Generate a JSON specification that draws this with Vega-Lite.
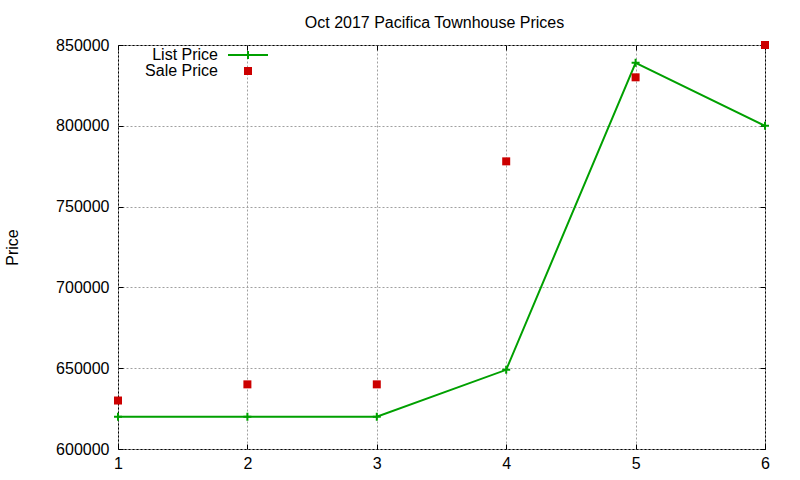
{
  "$schema": "https://vega.github.io/schema/vega-lite/v6.json",
  "autosize": "none",
  "width": 647,
  "height": 404,
  "padding": {"left": 118, "top": 45, "right": 35, "bottom": 31},
  "background": "white",
  "title": {
    "text": "Oct 2017 Pacifica Townhouse Prices",
    "font": "Liberation Sans",
    "fontSize": 16,
    "fontWeight": "normal",
    "color": "#000000",
    "anchor": "middle",
    "frame": "group",
    "baseline": "bottom",
    "offset": 14,
    "dx": -7,
    "dy": 24
  },
  "config": {
    "view": {"stroke": "#000000", "strokeWidth": 1},
    "font": "Liberation Sans",
    "axis": {
      "labelFont": "Liberation Sans",
      "labelFontSize": 16,
      "labelColor": "#000000",
      "labelFlush": false,
      "labelOverlap": false,
      "titleFont": "Liberation Sans",
      "titleFontSize": 16,
      "titleFontWeight": "normal",
      "titleColor": "#000000",
      "domain": false,
      "tickColor": "#000000",
      "tickSize": -5,
      "gridColor": "#a0a0a0",
      "gridDash": [2, 2],
      "gridOpacity": 1
    }
  },
  "data": {
    "values": [
      {"num": 1, "price": 620000, "series": "List Price"},
      {"num": 2, "price": 620000, "series": "List Price"},
      {"num": 3, "price": 620000, "series": "List Price"},
      {"num": 4, "price": 649000, "series": "List Price"},
      {"num": 5, "price": 839000, "series": "List Price"},
      {"num": 6, "price": 800000, "series": "List Price"},
      {"num": 1, "price": 630000, "series": "Sale Price"},
      {"num": 2, "price": 640000, "series": "Sale Price"},
      {"num": 3, "price": 640000, "series": "Sale Price"},
      {"num": 4, "price": 778000, "series": "Sale Price"},
      {"num": 5, "price": 830000, "series": "Sale Price"},
      {"num": 6, "price": 850000, "series": "Sale Price"}
    ]
  },
  "encoding": {
    "x": {"field": "num", "type": "quantitative", "scale": {"domain": [1, 6], "nice": false, "zero": false}},
    "y": {"field": "price", "type": "quantitative", "scale": {"domain": [600000, 850000], "nice": false, "zero": false}},
    "color": {
      "field": "series",
      "type": "nominal",
      "scale": {"domain": ["List Price", "Sale Price"], "range": ["#00a000", "#cc0000"]},
      "legend": {
        "title": null,
        "orient": "none",
        "legendX": 42,
        "legendY": 2,
        "padding": 0,
        "labelFont": "Liberation Sans",
        "labelFontSize": 16,
        "labelColor": "#000000",
        "labelAlign": "right",
        "symbolSize": 100,
        "symbolStrokeWidth": 2,
        "symbolOffset": 80,
        "labelOffset": -38,
        "rowPadding": -3,
        "encode": {
          "symbols": {
            "update": {
              "shape": {"signal": "datum.value == 'List Price' ? 'M-4,0L4,0M0,-0.8L0,0.8' : 'M-0.8,-0.8L0.8,-0.8L0.8,0.8L-0.8,0.8Z'"},
              "fill": {"signal": "datum.value == 'Sale Price' ? '#cc0000' : 'transparent'"},
              "stroke": {"signal": "datum.value == 'List Price' ? '#00a000' : 'transparent'"},
              "strokeWidth": {"signal": "datum.value == 'List Price' ? 2 : 0"},
              "opacity": {"value": 1}
            }
          }
        }
      }
    }
  },
  "layer": [
    {
      "transform": [{"filter": "datum.series == 'List Price'"}],
      "mark": {"type": "line", "strokeWidth": 2},
      "encoding": {
        "x": {"field": "num", "type": "quantitative", "axis": {"title": null, "values": [1, 2, 3, 4, 5, 6], "format": "d", "labelPadding": 11, "grid": true}},
        "y": {"field": "price", "type": "quantitative", "axis": {"title": "Price", "values": [600000, 650000, 700000, 750000, 800000, 850000], "format": "d", "labelPadding": 14, "grid": true, "titleAngle": -90, "titleX": -106, "titleY": 202, "titleAlign": "center", "titleBaseline": "middle"}}
      }
    },
    {
      "transform": [{"filter": "datum.series == 'List Price'"}],
      "mark": {"type": "point", "shape": "M-1,0L1,0M0,-1L0,1", "size": 64, "filled": false, "strokeWidth": 2, "opacity": 1},
      "encoding": {
        "x": {"field": "num", "type": "quantitative", "axis": {"orient": "top", "title": null, "values": [1, 2, 3, 4, 5, 6], "labels": false, "grid": false}},
        "y": {"field": "price", "type": "quantitative", "axis": {"orient": "right", "title": null, "values": [600000, 650000, 700000, 750000, 800000, 850000], "labels": false, "grid": false}}
      }
    },
    {
      "transform": [{"filter": "datum.series == 'Sale Price'"}],
      "mark": {"type": "point", "shape": "square", "size": 64, "filled": true, "opacity": 1},
      "encoding": {
        "x": {"field": "num", "type": "quantitative", "axis": null},
        "y": {"field": "price", "type": "quantitative", "axis": null}
      }
    }
  ],
  "resolve": {"axis": {"x": "independent", "y": "independent"}}
}
